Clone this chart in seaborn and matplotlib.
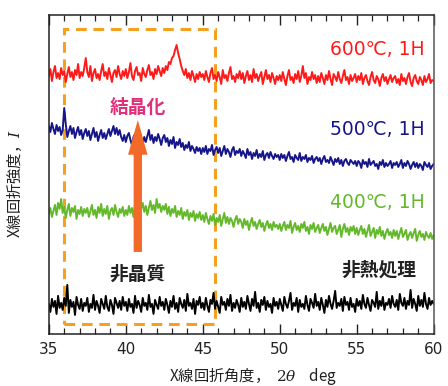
import numpy as np
import pandas as pd
import matplotlib
matplotlib.use("Agg")
import matplotlib.pyplot as plt
from matplotlib.ticker import MultipleLocator
from matplotlib.patches import Rectangle
import seaborn as sns

# ---------------- data ----------------
angle = [round(35 + 0.1 * i, 1) for i in range(251)]

black_vals = [
    30,22,35,27,33,20,38,26,31,24,36,28,49,21,34,27,32,19,37,29,25,35,23,31,28,
    36,22,30,26,39,24,33,28,21,35,30,25,38,27,23,34,29,20,36,31,26,33,24,37,28,
    32,23,35,27,30,21,38,26,33,29,22,36,28,31,24,39,27,30,20,34,29,25,37,28,32,
    24,35,29,21,33,27,38,25,31,22,36,30,26,34,23,40,28,31,25,35,20,33,29,37,26,
    31,24,36,28,22,34,30,41,25,33,27,21,37,29,32,24,35,28,39,23,31,26,34,29,22,
    36,27,32,25,38,30,23,35,28,42,26,31,22,34,29,37,24,33,27,30,21,36,28,32,25,
    35,29,23,37,30,26,33,41,24,31,28,36,22,34,27,30,25,38,29,23,35,31,26,40,28,
    32,24,36,29,21,34,27,38,30,25,33,43,26,31,28,35,23,37,29,32,24,36,27,30,22,
    35,28,33,25,39,30,26,36,29,23,34,31,27,42,25,33,28,37,24,31,29,35,26,38,30,
    27,34,24,40,31,28,36,25,33,29,44,26,35,30,23,38,28,34,27,41,30,25,36,29,33,
    30,
]

green_vals = [
    120,126,117,123,129,119,131,125,135,121,127,116,124,130,118,126,122,128,115,124,120,127,118,125,121,
    126,117,123,129,119,124,116,127,121,130,118,125,120,128,115,123,126,119,129,122,117,125,121,127,118,
    124,119,128,121,126,117,130,123,127,120,125,131,122,128,119,126,133,124,129,121,135,126,130,122,128,
    124,130,120,127,118,125,121,128,117,123,119,126,115,122,118,124,114,121,117,123,113,120,116,122,114,
    119,112,121,115,110,118,113,120,109,116,112,119,108,115,121,111,117,110,116,113,107,114,118,110,115,
    112,106,115,109,113,104,111,116,108,112,105,110,114,107,111,103,109,113,106,110,104,112,107,109,105,
    110,103,108,112,104,109,106,113,101,107,111,104,108,102,110,106,112,103,107,100,109,105,111,102,106,
    109,101,106,110,103,107,99,105,111,102,106,108,100,104,109,97,105,110,102,106,99,107,103,108,100,
    106,99,104,108,100,105,97,103,109,98,102,106,96,104,100,107,98,103,95,101,105,99,102,96,104,
    98,103,95,101,106,97,100,104,94,99,102,96,101,105,93,99,103,97,100,94,102,98,96,101,95,
    99,
]

blue_vals = [
    208,202,211,205,200,209,203,207,199,204,226,210,197,203,208,200,206,196,202,207,199,204,195,201,205,
    198,203,194,200,206,197,202,193,199,204,196,201,195,200,205,198,203,208,200,206,199,204,197,193,199,
    192,198,201,194,189,197,200,193,199,203,195,190,197,192,198,204,194,199,191,197,193,200,195,189,196,
    199,192,196,188,194,190,197,186,192,189,195,187,191,184,189,186,192,183,188,185,181,187,183,186,180,
    186,182,188,180,185,183,189,179,184,187,181,186,178,183,188,180,185,182,177,184,187,179,183,181,185,
    178,183,180,176,185,179,182,175,181,178,184,176,180,177,183,174,179,181,176,182,178,175,180,177,179,
    174,180,176,179,173,178,182,175,177,172,179,176,174,181,173,177,175,179,172,176,174,178,171,175,177,
    173,176,170,175,178,172,174,171,177,173,169,175,172,176,170,174,168,173,175,171,169,174,172,170,173,
    168,173,171,166,174,170,172,167,175,169,171,173,168,170,165,172,169,174,167,171,168,170,173,166,171,
    169,172,167,170,174,166,171,168,173,170,165,169,172,167,171,166,170,168,164,172,169,167,171,165,168,
    170,
]

red_vals = [
    258,265,253,262,268,256,261,255,266,259,263,252,260,267,257,262,254,264,259,270,256,262,258,266,276,
    262,257,268,253,261,265,256,260,254,263,270,258,262,255,266,259,252,261,264,257,268,260,255,263,258,
    265,256,262,271,258,254,263,267,259,261,253,266,260,257,264,269,259,262,255,265,260,268,263,258,266,
    261,268,264,272,270,276,278,284,289,281,275,268,263,259,265,256,261,254,263,258,252,260,255,262,257,
    260,254,263,257,252,261,266,255,259,253,262,257,250,264,256,259,253,261,267,255,258,252,260,256,263,
    255,261,251,258,263,254,259,252,265,256,260,253,258,262,250,257,264,255,259,252,261,256,250,258,254,
    259,253,262,255,249,258,264,254,257,251,260,255,263,252,258,268,256,261,250,257,254,262,255,259,251,
    258,252,261,256,250,259,254,263,255,249,260,257,253,262,255,251,258,264,254,257,250,259,253,256,260,
    252,258,254,261,250,256,259,253,249,257,262,254,251,258,255,248,256,260,253,257,250,255,259,252,256,
    258,251,255,249,260,253,256,250,257,261,252,248,256,259,253,250,257,254,249,258,252,255,260,251,254,
    253,
]

samples = ["非熱処理", "400℃, 1H", "500℃, 1H", "600℃, 1H"]
series_vals = [black_vals, green_vals, blue_vals, red_vals]
colors = ["#000000", "#63b92a", "#16168a", "#ff1a1a"]

x_ticks = [35, 40, 45, 50, 55, 60]

# ---------------- styling ----------------
sns.set_theme(style="white")
plt.rcParams["font.family"] = ["DejaVu Sans", "Noto Sans CJK JP"]
plt.rcParams["mathtext.fontset"] = "dejavuserif"

df = pd.concat(
    [pd.DataFrame({"angle": angle, "intensity": v, "sample": s})
     for s, v in zip(samples, series_vals)],
    ignore_index=True,
)

fig = plt.figure(figsize=(4.48, 3.86), dpi=100)
ax = fig.add_axes([0.109, 0.135, 0.859, 0.826])

sns.lineplot(data=df, x="angle", y="intensity", hue="sample",
             palette=dict(zip(samples, colors)), hue_order=samples,
             estimator=None, sort=False, linewidth=1.4, legend=False, ax=ax)

ax.set_xlim(35, 60)
ax.set_ylim(0, 319)
ax.set_xticks(x_ticks)
ax.set_xticklabels([str(t) for t in x_ticks])
ax.xaxis.set_minor_locator(MultipleLocator(1))
ax.set_yticks([])
ax.tick_params(axis="x", which="both", direction="in", top=True, bottom=True,
               colors="#222222", labelsize=11, pad=6)
ax.tick_params(axis="x", which="major", length=7, width=1)
ax.tick_params(axis="x", which="minor", length=4, width=0.9)

for side in ["left", "bottom", "top"]:
    ax.spines[side].set_color("#222222")
    ax.spines[side].set_linewidth(1.1)
ax.spines["right"].set_color("#555555")
ax.spines["right"].set_linewidth(1.1)

ax.set_xlabel("X線回折角度，  $2\\theta$    deg", fontsize=11, color="#222222",
              family="Noto Sans CJK JP")
ax.xaxis.set_label_coords(0.53, -0.10)
ax.set_ylabel("X線回折強度，$I$", fontsize=11, color="#222222",
              family="Noto Sans CJK JP")
ax.yaxis.set_label_coords(-0.065, 0.47)

# dashed box
ax.add_patch(Rectangle((36.0, 10), 45.8 - 36.0, 295, fill=False,
                       edgecolor="#f5a01e", linewidth=2.2,
                       linestyle=(0, (3.5, 2.2)), zorder=1))

# arrow
ax.annotate("", xy=(40.78, 214), xytext=(40.78, 82),
            arrowprops=dict(arrowstyle="simple,head_length=2.5,head_width=1.4,tail_width=0.6",
                            mutation_scale=10, color="#f26a2a", shrinkA=0, shrinkB=0, lw=0),
            zorder=3)

# labels
ax.text(59.4, 285, "600℃, 1H", color="#ff1a1a", fontsize=13.5, ha="right", va="center")
ax.text(59.4, 204, "500℃, 1H", color="#16168a", fontsize=13.5, ha="right", va="center")
ax.text(59.4, 131, "400℃, 1H", color="#63b92a", fontsize=13.5, ha="right", va="center")
ax.text(58.9, 64, "非熱処理", color="#222222", fontsize=13.5, ha="right", va="center",
        family=["Noto Sans CJK JP"], weight="bold")
ax.text(40.8, 60, "非晶質", color="#222222", fontsize=13.5, ha="center", va="center",
        family=["Noto Sans CJK JP"], weight="bold")
ax.text(40.8, 227, "結晶化", color="#e0307a", fontsize=13.5, ha="center", va="center",
        family=["Noto Sans CJK JP"], weight="bold")

fig.savefig("out.png", dpi=100)
